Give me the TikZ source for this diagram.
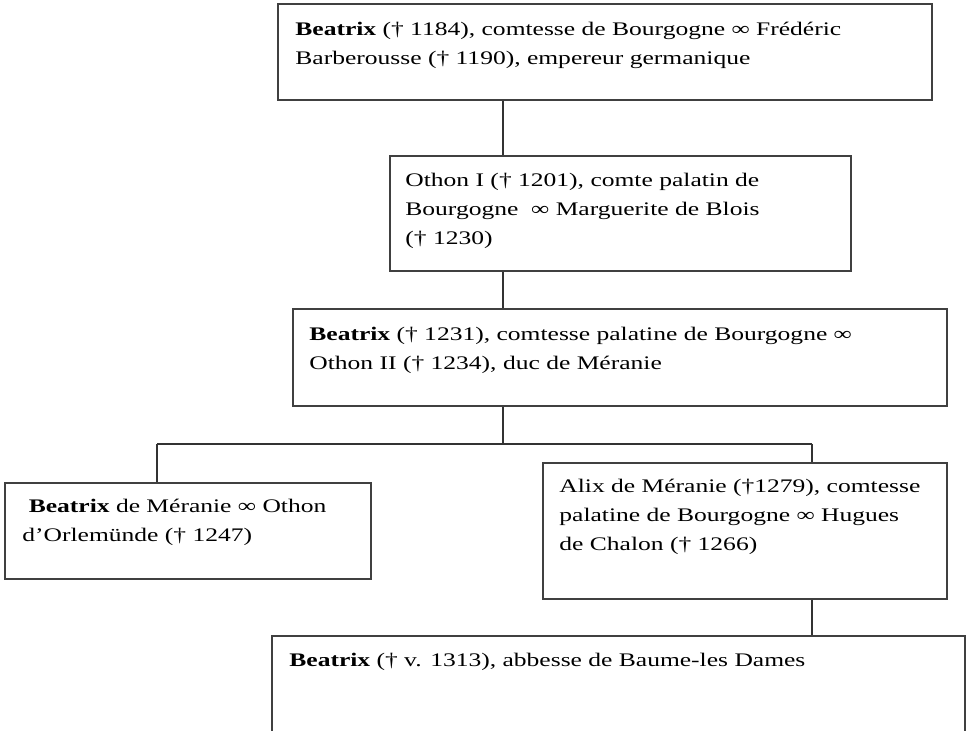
\documentclass[tikz,border=0pt]{standalone}
\usepackage{fontspec}
\setmainfont{Liberation Serif}[FakeStretch=1.33]
\usetikzlibrary{fit}

\tikzset{
  cadre/.style={draw=black!75, line width=0.6pt, inner sep=0pt},
  texte/.style={anchor=base west, inner sep=0pt, align=left, font=\fontsize{9.6}{14.65}\selectfont},
  trait/.style={draw=black!80, line width=0.6pt}
}

\begin{document}
\begin{tikzpicture}[x=0.5pt, y=-0.5pt]
  \clip (0,0) rectangle (966,731);

  % Beatrix et Barberousse
  \node[cadre, fit={(278,4) (932,100)}] (b1) {};
  \node[texte] (t1) at (295,65) {\textbf{Beatrix} († 1184), comtesse de Bourgogne ∞ Frédéric\\Barberousse († 1190), empereur germanique};

  % Othon I
  \node[cadre, fit={(390,156) (851,271)}] (b2) {};
  \node[texte] (t2) at (405,245) {Othon I († 1201), comte palatin de\\Bourgogne \ ∞ Marguerite de Blois\\(† 1230)};

  % Beatrix et Othon II
  \node[cadre, fit={(293,309) (947,406)}] (b3) {};
  \node[texte] (t3) at (309,370) {\textbf{Beatrix} († 1231), comtesse palatine de Bourgogne ∞\\Othon II († 1234), duc de Méranie};

  % Beatrix de Méranie
  \node[cadre, fit={(5,483) (371,579)}] (b4) {};
  \node[texte] (t4) at (22,542) {\ \textbf{Beatrix} de Méranie ∞ Othon\\d’Orlemünde († 1247)};

  % Alix de Méranie
  \node[cadre, fit={(543,463) (947,599)}] (b5) {};
  \node[texte] (t5) at (559,551) {Alix de Méranie (†1279), comtesse\\palatine de Bourgogne ∞ Hugues\\de Chalon († 1266)};

  % Beatrix abbesse
  \node[cadre, fit={(272,636) (965,760)}] (b6) {};
  \node[texte] (t6) at (289,667) {\textbf{Beatrix} († v. 1313), abbesse de Baume-les Dames};

  % liens
  \coordinate (milieu) at (503,444);
  \coordinate (gauche) at (157,444);
  \coordinate (droite) at (812,444);
  \draw[trait] (b1.south -| milieu) -- (b2.north -| milieu);
  \draw[trait] (b2.south -| milieu) -- (b3.north -| milieu);
  \draw[trait] (b3.south -| milieu) -- (milieu);
  \draw[trait] (gauche) -- (droite);
  \draw[trait] (gauche) -- (b4.north -| gauche);
  \draw[trait] (droite) -- (b5.north -| droite);
  \draw[trait] (b5.south -| droite) -- (b6.north -| droite);
\end{tikzpicture}
\end{document}
